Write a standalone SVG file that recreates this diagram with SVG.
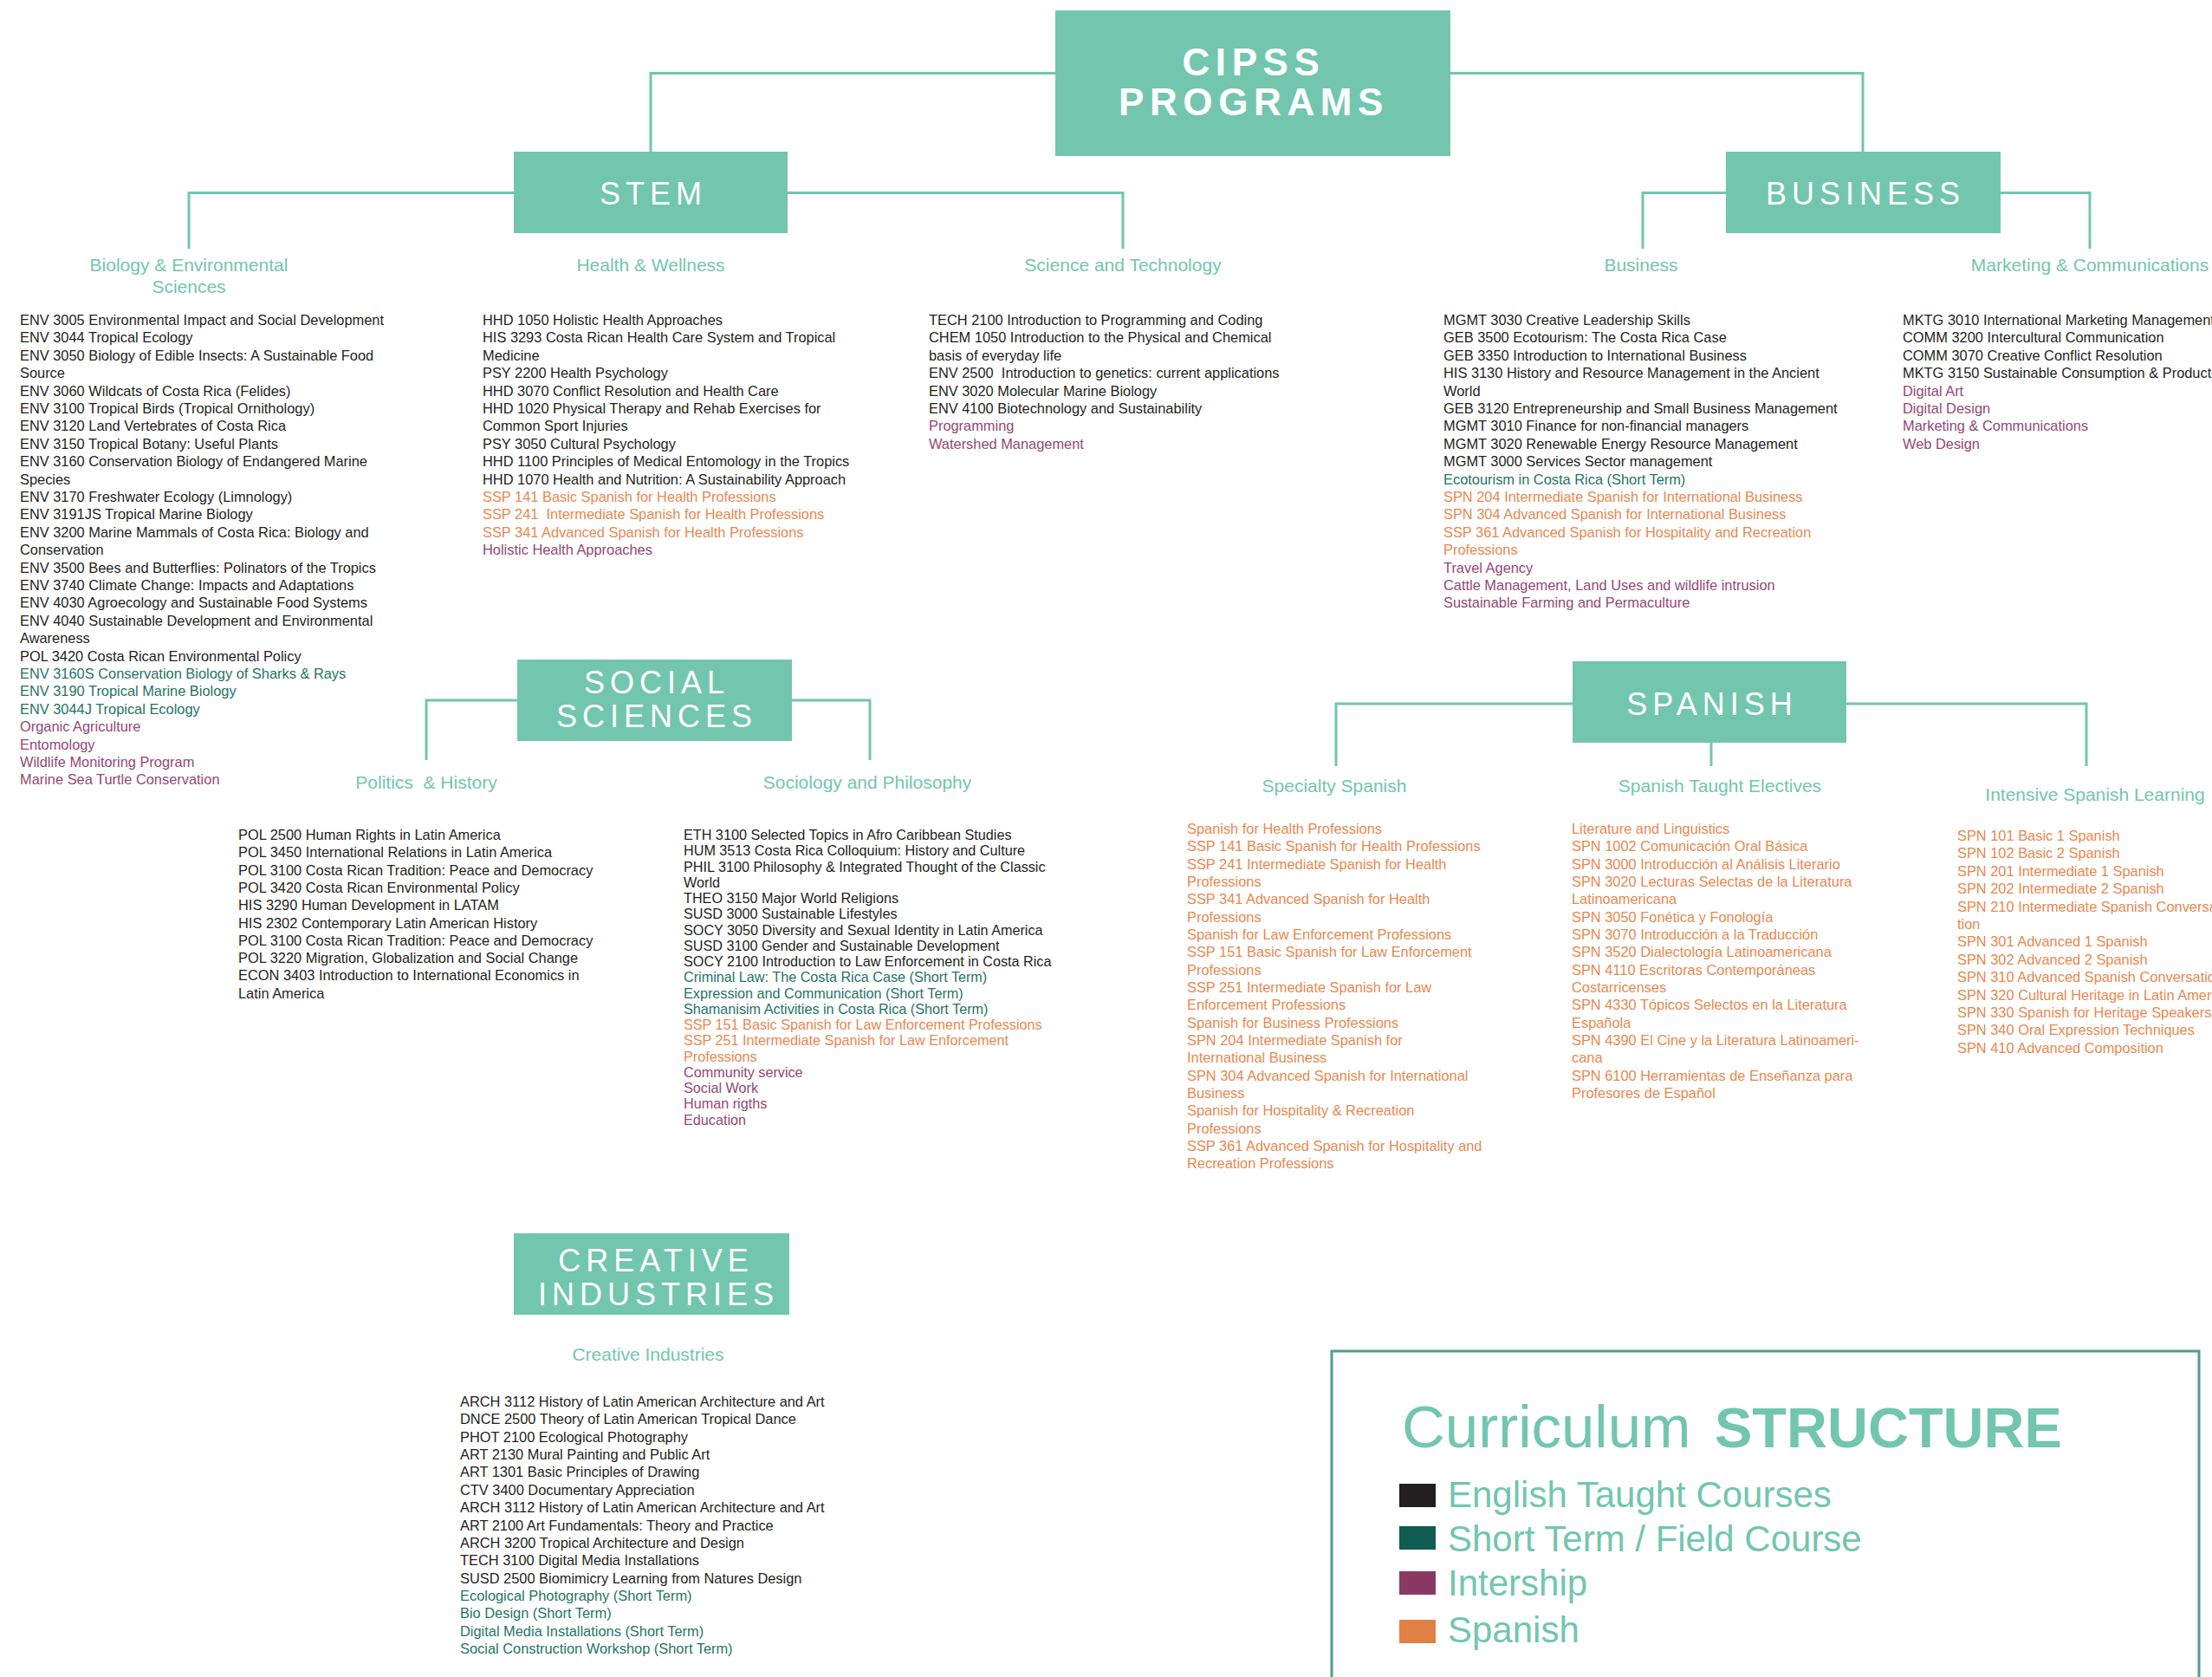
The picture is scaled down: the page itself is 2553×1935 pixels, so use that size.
<svg xmlns="http://www.w3.org/2000/svg" width="2553" height="1935" viewBox="0 0 2553 1935">
<style>
.bg{fill:#ffffff}
.box{fill:#72c6ae}
.conn{fill:none;stroke:#72c6ae;stroke-width:3}
.t{font-family:'Liberation Sans',Arial,sans-serif;font-size:16.4px}
.t2{font-family:'Liberation Sans',Arial,sans-serif;font-size:16.2px}
.k{fill:#231f20}
.s{fill:#1f7565}
.i{fill:#944874}
.o{fill:#e8884f}
.lab{font-family:'Liberation Sans',Arial,sans-serif;font-size:21px;fill:#72c6ae;text-anchor:middle}
.bt{font-family:'Liberation Sans',Arial,sans-serif;fill:#ffffff;font-size:36px;letter-spacing:6px;text-anchor:middle}
.ht{font-family:'Liberation Sans',Arial,sans-serif;fill:#ffffff;font-size:44px;font-weight:bold;letter-spacing:6.6px;text-anchor:middle}
.leg{font-family:'Liberation Sans',Arial,sans-serif;fill:#72c6ae}
</style>
<rect class="bg" x="0" y="0" width="2553" height="1935"/>

<g id="connectors">
<path class="conn" d="M1218,84.5 H751 V175"/>
<path class="conn" d="M1674,84.5 H2150 V175"/>
<path class="conn" d="M593,222.5 H218 V287"/>
<path class="conn" d="M909,222.5 H1296 V287"/>
<path class="conn" d="M1992,222.5 H1896 V287"/>
<path class="conn" d="M2309,222.5 H2412 V287"/>
<path class="conn" d="M597,808 H492 V877"/>
<path class="conn" d="M914,808 H1004 V877"/>
<path class="conn" d="M1815,812 H1542 V884"/>
<path class="conn" d="M1975,857 V884"/>
<path class="conn" d="M2131,812 H2408 V884"/>
</g>

<g id="cipss">
<rect class="box" x="1218" y="12" width="456" height="168"/>
<text class="ht" x="1447" y="87">CIPSS</text>
<text class="ht" x="1447" y="133">PROGRAMS</text>
</g>

<g id="stem">
<rect class="box" x="593" y="175" width="316" height="94"/>
<text class="bt" x="754" y="236">STEM</text>
</g>

<g id="business">
<rect class="box" x="1992" y="175" width="317" height="94"/>
<text class="bt" x="2153" y="236">BUSINESS</text>
</g>

<g id="social-sciences">
<rect class="box" x="597" y="761" width="317" height="94"/>
<text class="bt" x="758" y="800">SOCIAL</text>
<text class="bt" x="758" y="839">SCIENCES</text>
</g>

<g id="spanish">
<rect class="box" x="1815" y="763" width="316" height="94"/>
<text class="bt" x="1976" y="825">SPANISH</text>
</g>

<g id="creative-industries">
<rect class="box" x="593" y="1423" width="318" height="94"/>
<text class="bt" x="757" y="1467">CREATIVE</text>
<text class="bt" x="760" y="1506">INDUSTRIES</text>
</g>

<g id="biology">
<text class="lab" x="218" y="313">Biology &amp; Environmental</text>
<text class="lab" x="218" y="338">Sciences</text>
<text class="t">
<tspan class="k" x="23" y="375">ENV 3005 Environmental Impact and Social Development</tspan>
<tspan class="k" x="23" dy="20.4">ENV 3044 Tropical Ecology</tspan>
<tspan class="k" x="23" dy="20.4">ENV 3050 Biology of Edible Insects: A Sustainable Food</tspan>
<tspan class="k" x="23" dy="20.4">Source</tspan>
<tspan class="k" x="23" dy="20.4">ENV 3060 Wildcats of Costa Rica (Felides)</tspan>
<tspan class="k" x="23" dy="20.4">ENV 3100 Tropical Birds (Tropical Ornithology)</tspan>
<tspan class="k" x="23" dy="20.4">ENV 3120 Land Vertebrates of Costa Rica</tspan>
<tspan class="k" x="23" dy="20.4">ENV 3150 Tropical Botany: Useful Plants</tspan>
<tspan class="k" x="23" dy="20.4">ENV 3160 Conservation Biology of Endangered Marine</tspan>
<tspan class="k" x="23" dy="20.4">Species</tspan>
<tspan class="k" x="23" dy="20.4">ENV 3170 Freshwater Ecology (Limnology)</tspan>
<tspan class="k" x="23" dy="20.4">ENV 3191JS Tropical Marine Biology</tspan>
<tspan class="k" x="23" dy="20.4">ENV 3200 Marine Mammals of Costa Rica: Biology and</tspan>
<tspan class="k" x="23" dy="20.4">Conservation</tspan>
<tspan class="k" x="23" dy="20.4">ENV 3500 Bees and Butterflies: Polinators of the Tropics</tspan>
<tspan class="k" x="23" dy="20.4">ENV 3740 Climate Change: Impacts and Adaptations</tspan>
<tspan class="k" x="23" dy="20.4">ENV 4030 Agroecology and Sustainable Food Systems</tspan>
<tspan class="k" x="23" dy="20.4">ENV 4040 Sustainable Development and Environmental</tspan>
<tspan class="k" x="23" dy="20.4">Awareness</tspan>
<tspan class="k" x="23" dy="20.4">POL 3420 Costa Rican Environmental Policy</tspan>
<tspan class="s" x="23" dy="20.4">ENV 3160S Conservation Biology of Sharks &amp; Rays</tspan>
<tspan class="s" x="23" dy="20.4">ENV 3190 Tropical Marine Biology</tspan>
<tspan class="s" x="23" dy="20.4">ENV 3044J Tropical Ecology</tspan>
<tspan class="i" x="23" dy="20.4">Organic Agriculture</tspan>
<tspan class="i" x="23" dy="20.4">Entomology</tspan>
<tspan class="i" x="23" dy="20.4">Wildlife Monitoring Program</tspan>
<tspan class="i" x="23" dy="20.4">Marine Sea Turtle Conservation</tspan>
</text>
</g>

<g id="health">
<text class="lab" x="751" y="313">Health &amp; Wellness</text>
<text class="t">
<tspan class="k" x="557" y="375">HHD 1050 Holistic Health Approaches</tspan>
<tspan class="k" x="557" dy="20.4">HIS 3293 Costa Rican Health Care System and Tropical</tspan>
<tspan class="k" x="557" dy="20.4">Medicine</tspan>
<tspan class="k" x="557" dy="20.4">PSY 2200 Health Psychology</tspan>
<tspan class="k" x="557" dy="20.4">HHD 3070 Conflict Resolution and Health Care</tspan>
<tspan class="k" x="557" dy="20.4">HHD 1020 Physical Therapy and Rehab Exercises for</tspan>
<tspan class="k" x="557" dy="20.4">Common Sport Injuries</tspan>
<tspan class="k" x="557" dy="20.4">PSY 3050 Cultural Psychology</tspan>
<tspan class="k" x="557" dy="20.4">HHD 1100 Principles of Medical Entomology in the Tropics</tspan>
<tspan class="k" x="557" dy="20.4">HHD 1070 Health and Nutrition: A Sustainability Approach</tspan>
<tspan class="o" x="557" dy="20.4">SSP 141 Basic Spanish for Health Professions</tspan>
<tspan class="o" x="557" dy="20.4" xml:space="preserve">SSP 241  Intermediate Spanish for Health Professions</tspan>
<tspan class="o" x="557" dy="20.4">SSP 341 Advanced Spanish for Health Professions</tspan>
<tspan class="i" x="557" dy="20.4">Holistic Health Approaches</tspan>
</text>
</g>

<g id="science-technology">
<text class="lab" x="1296" y="313">Science and Technology</text>
<text class="t">
<tspan class="k" x="1072" y="375">TECH 2100 Introduction to Programming and Coding</tspan>
<tspan class="k" x="1072" dy="20.4">CHEM 1050 Introduction to the Physical and Chemical</tspan>
<tspan class="k" x="1072" dy="20.4">basis of everyday life</tspan>
<tspan class="k" x="1072" dy="20.4" xml:space="preserve">ENV 2500  Introduction to genetics: current applications</tspan>
<tspan class="k" x="1072" dy="20.4">ENV 3020 Molecular Marine Biology</tspan>
<tspan class="k" x="1072" dy="20.4">ENV 4100 Biotechnology and Sustainability</tspan>
<tspan class="i" x="1072" dy="20.4">Programming</tspan>
<tspan class="i" x="1072" dy="20.4">Watershed Management</tspan>
</text>
</g>

<g id="business-list">
<text class="lab" x="1894" y="313">Business</text>
<text class="t">
<tspan class="k" x="1666" y="375">MGMT 3030 Creative Leadership Skills</tspan>
<tspan class="k" x="1666" dy="20.4">GEB 3500 Ecotourism: The Costa Rica Case</tspan>
<tspan class="k" x="1666" dy="20.4">GEB 3350 Introduction to International Business</tspan>
<tspan class="k" x="1666" dy="20.4">HIS 3130 History and Resource Management in the Ancient</tspan>
<tspan class="k" x="1666" dy="20.4">World</tspan>
<tspan class="k" x="1666" dy="20.4">GEB 3120 Entrepreneurship and Small Business Management</tspan>
<tspan class="k" x="1666" dy="20.4">MGMT 3010 Finance for non-financial managers</tspan>
<tspan class="k" x="1666" dy="20.4">MGMT 3020 Renewable Energy Resource Management</tspan>
<tspan class="k" x="1666" dy="20.4">MGMT 3000 Services Sector management</tspan>
<tspan class="s" x="1666" dy="20.4">Ecotourism in Costa Rica (Short Term)</tspan>
<tspan class="o" x="1666" dy="20.4">SPN 204 Intermediate Spanish for International Business</tspan>
<tspan class="o" x="1666" dy="20.4">SPN 304 Advanced Spanish for International Business</tspan>
<tspan class="o" x="1666" dy="20.4">SSP 361 Advanced Spanish for Hospitality and Recreation</tspan>
<tspan class="o" x="1666" dy="20.4">Professions</tspan>
<tspan class="i" x="1666" dy="20.4">Travel Agency</tspan>
<tspan class="i" x="1666" dy="20.4">Cattle Management, Land Uses and wildlife intrusion</tspan>
<tspan class="i" x="1666" dy="20.4">Sustainable Farming and Permaculture</tspan>
</text>
</g>

<g id="marketing">
<text class="lab" x="2412" y="313">Marketing &amp; Communications</text>
<text class="t">
<tspan class="k" x="2196" y="375">MKTG 3010 International Marketing Management</tspan>
<tspan class="k" x="2196" dy="20.4">COMM 3200 Intercultural Communication</tspan>
<tspan class="k" x="2196" dy="20.4">COMM 3070 Creative Conflict Resolution</tspan>
<tspan class="k" x="2196" dy="20.4">MKTG 3150 Sustainable Consumption &amp; Production</tspan>
<tspan class="i" x="2196" dy="20.4">Digital Art</tspan>
<tspan class="i" x="2196" dy="20.4">Digital Design</tspan>
<tspan class="i" x="2196" dy="20.4">Marketing &amp; Communications</tspan>
<tspan class="i" x="2196" dy="20.4">Web Design</tspan>
</text>
</g>

<g id="politics-history">
<text class="lab" x="492" y="910" xml:space="preserve">Politics  &amp; History</text>
<text class="t">
<tspan class="k" x="275" y="969">POL 2500 Human Rights in Latin America</tspan>
<tspan class="k" x="275" dy="20.3">POL 3450 International Relations in Latin America</tspan>
<tspan class="k" x="275" dy="20.3">POL 3100 Costa Rican Tradition: Peace and Democracy</tspan>
<tspan class="k" x="275" dy="20.3">POL 3420 Costa Rican Environmental Policy</tspan>
<tspan class="k" x="275" dy="20.3">HIS 3290 Human Development in LATAM</tspan>
<tspan class="k" x="275" dy="20.3">HIS 2302 Contemporary Latin American History</tspan>
<tspan class="k" x="275" dy="20.3">POL 3100 Costa Rican Tradition: Peace and Democracy</tspan>
<tspan class="k" x="275" dy="20.3">POL 3220 Migration, Globalization and Social Change</tspan>
<tspan class="k" x="275" dy="20.3">ECON 3403 Introduction to International Economics in</tspan>
<tspan class="k" x="275" dy="20.3">Latin America</tspan>
</text>
</g>

<g id="sociology-philosophy">
<text class="lab" x="1001" y="910">Sociology and Philosophy</text>
<text class="t2">
<tspan class="k" x="789" y="969">ETH 3100 Selected Topics in Afro Caribbean Studies</tspan>
<tspan class="k" x="789" dy="18.25">HUM 3513 Costa Rica Colloquium: History and Culture</tspan>
<tspan class="k" x="789" dy="18.25">PHIL 3100 Philosophy &amp; Integrated Thought of the Classic</tspan>
<tspan class="k" x="789" dy="18.25">World</tspan>
<tspan class="k" x="789" dy="18.25">THEO 3150 Major World Religions</tspan>
<tspan class="k" x="789" dy="18.25">SUSD 3000 Sustainable Lifestyles</tspan>
<tspan class="k" x="789" dy="18.25">SOCY 3050 Diversity and Sexual Identity in Latin America</tspan>
<tspan class="k" x="789" dy="18.25">SUSD 3100 Gender and Sustainable Development</tspan>
<tspan class="k" x="789" dy="18.25">SOCY 2100 Introduction to Law Enforcement in Costa Rica</tspan>
<tspan class="s" x="789" dy="18.25">Criminal Law: The Costa Rica Case (Short Term)</tspan>
<tspan class="s" x="789" dy="18.25">Expression and Communication (Short Term)</tspan>
<tspan class="s" x="789" dy="18.25">Shamanisim Activities in Costa Rica (Short Term)</tspan>
<tspan class="o" x="789" dy="18.25">SSP 151 Basic Spanish for Law Enforcement Professions</tspan>
<tspan class="o" x="789" dy="18.25">SSP 251 Intermediate Spanish for Law Enforcement</tspan>
<tspan class="o" x="789" dy="18.25">Professions</tspan>
<tspan class="i" x="789" dy="18.25">Community service</tspan>
<tspan class="i" x="789" dy="18.25">Social Work</tspan>
<tspan class="i" x="789" dy="18.25">Human rigths</tspan>
<tspan class="i" x="789" dy="18.25">Education</tspan>
</text>
</g>

<g id="specialty-spanish">
<text class="lab" x="1540" y="914">Specialty Spanish</text>
<text class="t">
<tspan class="o" x="1370" y="962">Spanish for Health Professions</tspan>
<tspan class="o" x="1370" dy="20.33">SSP 141 Basic Spanish for Health Professions</tspan>
<tspan class="o" x="1370" dy="20.33">SSP 241 Intermediate Spanish for Health</tspan>
<tspan class="o" x="1370" dy="20.33">Professions</tspan>
<tspan class="o" x="1370" dy="20.33">SSP 341 Advanced Spanish for Health</tspan>
<tspan class="o" x="1370" dy="20.33">Professions</tspan>
<tspan class="o" x="1370" dy="20.33">Spanish for Law Enforcement Professions</tspan>
<tspan class="o" x="1370" dy="20.33">SSP 151 Basic Spanish for Law Enforcement</tspan>
<tspan class="o" x="1370" dy="20.33">Professions</tspan>
<tspan class="o" x="1370" dy="20.33">SSP 251 Intermediate Spanish for Law</tspan>
<tspan class="o" x="1370" dy="20.33">Enforcement Professions</tspan>
<tspan class="o" x="1370" dy="20.33">Spanish for Business Professions</tspan>
<tspan class="o" x="1370" dy="20.33">SPN 204 Intermediate Spanish for</tspan>
<tspan class="o" x="1370" dy="20.33">International Business</tspan>
<tspan class="o" x="1370" dy="20.33">SPN 304 Advanced Spanish for International</tspan>
<tspan class="o" x="1370" dy="20.33">Business</tspan>
<tspan class="o" x="1370" dy="20.33">Spanish for Hospitality &amp; Recreation</tspan>
<tspan class="o" x="1370" dy="20.33">Professions</tspan>
<tspan class="o" x="1370" dy="20.33">SSP 361 Advanced Spanish for Hospitality and</tspan>
<tspan class="o" x="1370" dy="20.33">Recreation Professions</tspan>
</text>
</g>

<g id="spanish-electives">
<text class="lab" x="1985" y="914">Spanish Taught Electives</text>
<text class="t">
<tspan class="o" x="1814" y="962">Literature and Linguistics</tspan>
<tspan class="o" x="1814" dy="20.33">SPN 1002 Comunicación Oral Básica</tspan>
<tspan class="o" x="1814" dy="20.33">SPN 3000 Introducción al Análisis Literario</tspan>
<tspan class="o" x="1814" dy="20.33">SPN 3020 Lecturas Selectas de la Literatura</tspan>
<tspan class="o" x="1814" dy="20.33">Latinoamericana</tspan>
<tspan class="o" x="1814" dy="20.33">SPN 3050 Fonética y Fonología</tspan>
<tspan class="o" x="1814" dy="20.33">SPN 3070 Introducción a la Traducción</tspan>
<tspan class="o" x="1814" dy="20.33">SPN 3520 Dialectología Latinoamericana</tspan>
<tspan class="o" x="1814" dy="20.33">SPN 4110 Escritoras Contemporáneas</tspan>
<tspan class="o" x="1814" dy="20.33">Costarricenses</tspan>
<tspan class="o" x="1814" dy="20.33">SPN 4330 Tópicos Selectos en la Literatura</tspan>
<tspan class="o" x="1814" dy="20.33">Española</tspan>
<tspan class="o" x="1814" dy="20.33">SPN 4390 El Cine y la Literatura Latinoameri-</tspan>
<tspan class="o" x="1814" dy="20.33">cana</tspan>
<tspan class="o" x="1814" dy="20.33">SPN 6100 Herramientas de Enseñanza para</tspan>
<tspan class="o" x="1814" dy="20.33">Profesores de Español</tspan>
</text>
</g>

<g id="intensive-spanish">
<text class="lab" x="2418" y="924">Intensive Spanish Learning</text>
<text class="t">
<tspan class="o" x="2259" y="970">SPN 101 Basic 1 Spanish</tspan>
<tspan class="o" x="2259" dy="20.4">SPN 102 Basic 2 Spanish</tspan>
<tspan class="o" x="2259" dy="20.4">SPN 201 Intermediate 1 Spanish</tspan>
<tspan class="o" x="2259" dy="20.4">SPN 202 Intermediate 2 Spanish</tspan>
<tspan class="o" x="2259" dy="20.4">SPN 210 Intermediate Spanish Conversa-</tspan>
<tspan class="o" x="2259" dy="20.4">tion</tspan>
<tspan class="o" x="2259" dy="20.4">SPN 301 Advanced 1 Spanish</tspan>
<tspan class="o" x="2259" dy="20.4">SPN 302 Advanced 2 Spanish</tspan>
<tspan class="o" x="2259" dy="20.4">SPN 310 Advanced Spanish Conversation</tspan>
<tspan class="o" x="2259" dy="20.4">SPN 320 Cultural Heritage in Latin America</tspan>
<tspan class="o" x="2259" dy="20.4">SPN 330 Spanish for Heritage Speakers</tspan>
<tspan class="o" x="2259" dy="20.4">SPN 340 Oral Expression Techniques</tspan>
<tspan class="o" x="2259" dy="20.4">SPN 410 Advanced Composition</tspan>
</text>
</g>

<g id="creative-list">
<text class="lab" x="748" y="1570">Creative Industries</text>
<text class="t">
<tspan class="k" x="531" y="1623">ARCH 3112 History of Latin American Architecture and Art</tspan>
<tspan class="k" x="531" dy="20.36">DNCE 2500 Theory of Latin American Tropical Dance</tspan>
<tspan class="k" x="531" dy="20.36">PHOT 2100 Ecological Photography</tspan>
<tspan class="k" x="531" dy="20.36">ART 2130 Mural Painting and Public Art</tspan>
<tspan class="k" x="531" dy="20.36">ART 1301 Basic Principles of Drawing</tspan>
<tspan class="k" x="531" dy="20.36">CTV 3400 Documentary Appreciation</tspan>
<tspan class="k" x="531" dy="20.36">ARCH 3112 History of Latin American Architecture and Art</tspan>
<tspan class="k" x="531" dy="20.36">ART 2100 Art Fundamentals: Theory and Practice</tspan>
<tspan class="k" x="531" dy="20.36">ARCH 3200 Tropical Architecture and Design</tspan>
<tspan class="k" x="531" dy="20.36">TECH 3100 Digital Media Installations</tspan>
<tspan class="k" x="531" dy="20.36">SUSD 2500 Biomimicry Learning from Natures Design</tspan>
<tspan class="s" x="531" dy="20.36">Ecological Photography (Short Term)</tspan>
<tspan class="s" x="531" dy="20.36">Bio Design (Short Term)</tspan>
<tspan class="s" x="531" dy="20.36">Digital Media Installations (Short Term)</tspan>
<tspan class="s" x="531" dy="20.36">Social Construction Workshop (Short Term)</tspan>
</text>
</g>

<g id="legend">
<rect x="1537" y="1559" width="1001" height="400" fill="none" stroke="#4f9e8c" stroke-width="3"/>
<text class="leg" x="1618" y="1670" font-size="69">Curriculum</text>
<text class="leg" x="1979" y="1670" font-size="65" font-weight="bold">STRUCTURE</text>
<rect x="1615" y="1712" width="42" height="27" fill="#231f20"/>
<rect x="1615" y="1761" width="42" height="27" fill="#0f5c50"/>
<rect x="1615" y="1813" width="42" height="27" fill="#8a3a62"/>
<rect x="1615" y="1869" width="42" height="27" fill="#e08045"/>
<text class="leg" x="1671" y="1739" font-size="42">English Taught Courses</text>
<text class="leg" x="1671" y="1790" font-size="42">Short Term / Field Course</text>
<text class="leg" x="1671" y="1841" font-size="42">Intership</text>
<text class="leg" x="1671" y="1895" font-size="42">Spanish</text>
</g>
</svg>
